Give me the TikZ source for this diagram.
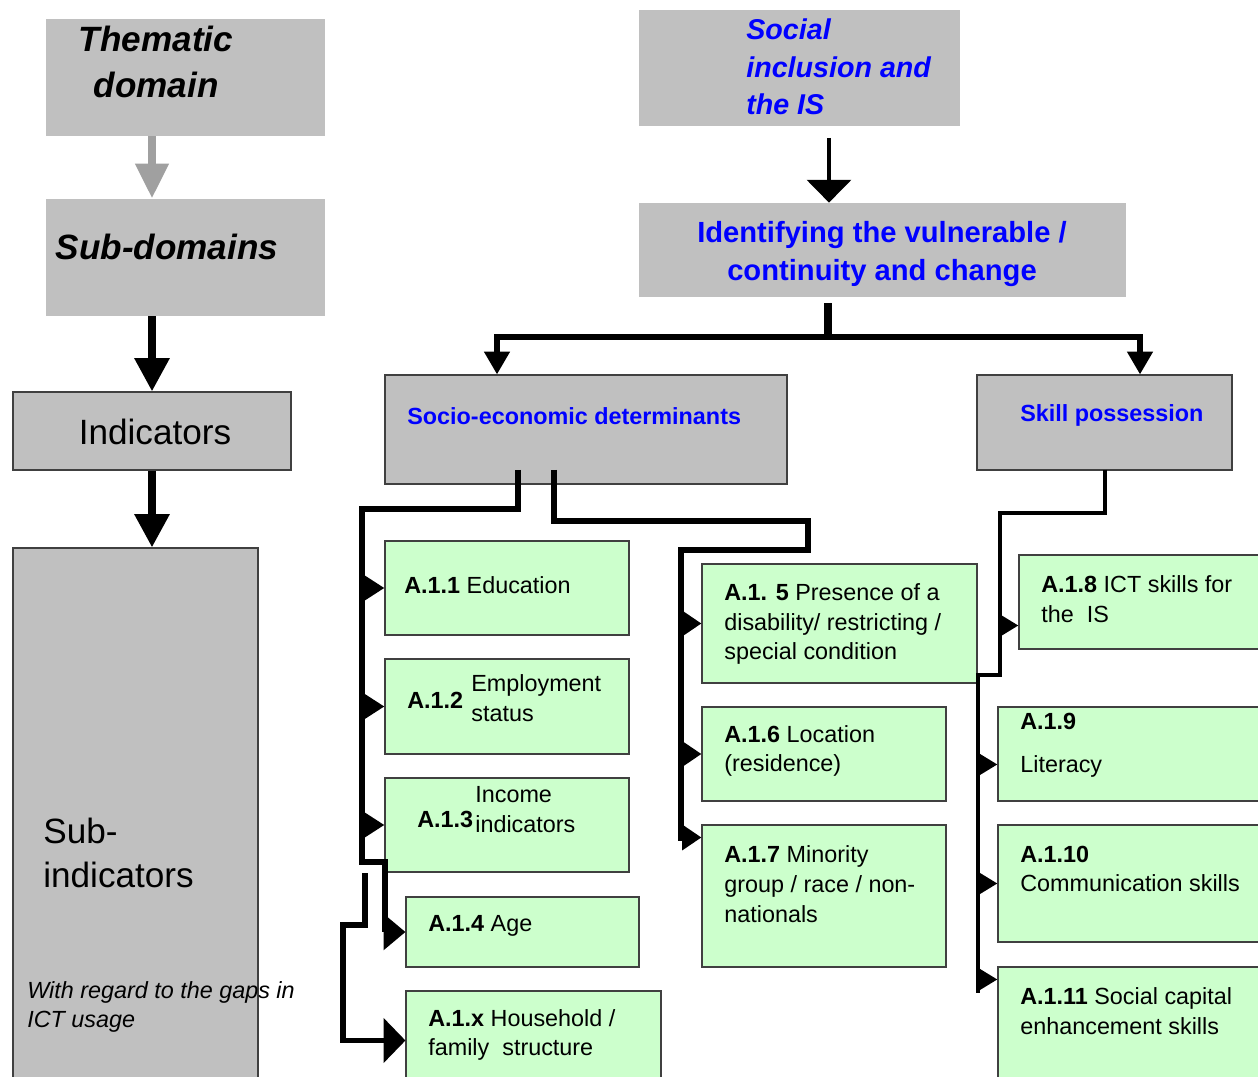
\documentclass[tikz,border=0pt]{standalone}
\usepackage{fontspec}
\setmainfont{Liberation Sans}
\usepackage{tikz}
\usetikzlibrary{arrows.meta, positioning, calc, fit}
\definecolor{boxgray}{RGB}{192,192,192}
\definecolor{boxgreen}{RGB}{204,255,204}
\definecolor{hdblue}{RGB}{0,0,255}
\definecolor{arrgray}{RGB}{160,160,160}
\newcommand{\fsz}[2]{\fontsize{#1pt}{#2pt}\selectfont}

\begin{document}
\begin{tikzpicture}[x=0.02cm, y=-0.02cm,
  graybox/.style={fill=boxgray, inner sep=0pt},
  framebox/.style={graybox, draw=black!75, line width=0.6pt},
  greenbox/.style={fill=boxgreen, draw=black!75, line width=0.6pt, inner sep=0pt},
  txt/.style={inner sep=0pt, align=left, anchor=west, font=\fsz{13.3}{17}},
  hd/.style={txt, text=hdblue, font=\fsz{13.3}{17}\bfseries},
  conn/.style={line width=3.2pt},
  rconn/.style={line width=2.6pt},
  tipL/.style={-{Triangle[length=12.5pt, width=#1]}},
  tipM/.style={-{Triangle[length=11pt, width=14pt]}},
  tipR/.style={-{Triangle[length=11pt, width=12.5pt]}}]
\useasboundingbox (0,0) rectangle (1258,1077);

% left column
\node[graybox, fit={(46,19) (325,136)}] (them) {};
\node[graybox, fit={(46,199) (325,316)}] (subd) {};
\node[framebox, fit={(13,392) (291,470)}] (indic) {};
\node[framebox, fit={(13,548) (258,1090)}] (subind) {};
\node[font=\fsz{20}{26}\bfseries\itshape, align=center, inner sep=0pt] (themtxt) at (156,62) {Thematic\\domain};
\node[font=\fsz{20}{26}\bfseries\itshape, inner sep=0pt] (subdtxt) at (167,247) {Sub-domains};
\node[font=\fsz{20}{26}, inner sep=0pt] (indictxt) at (155,432) {Indicators};
\node[txt, font=\fsz{20}{25.5}] (subindtxt) at (43,853) {Sub-\\indicators};
\node[txt, font=\fsz{13.3}{17}\itshape] (notetxt) at (27,1007) {With regard to the gaps in\\ICT usage};

\draw[line width=5pt, arrgray, -{Triangle[length=20pt, width=18pt]}] (them.south -| indic) -- (subd.north -| indic);
\draw[line width=4.5pt, -{Triangle[length=19pt, width=19pt]}] (subd.south -| indic) -- (indic.north);
\draw[line width=4.5pt, -{Triangle[length=19pt, width=19pt]}] (indic.south) -- (subind.north -| indic);

% top of the tree
\node[graybox, fit={(639,10) (960,126)}] (soc) {};
\node[graybox, fit={(639,203) (1126,297)}] (ident) {};
\node[framebox, fit={(385,375) (787,484)}] (socio) {};
\node[framebox, fit={(977,375) (1232,470)}] (skill) {};
\node[txt, text=hdblue, font=\fsz{16.3}{21.3}\bfseries\itshape] (soctxt) at (746,67) {Social\\inclusion and\\the IS};
\node[txt, anchor=center, align=center, text=hdblue, font=\fsz{16.6}{21.5}\bfseries] (identtxt) at (882,254) {Identifying the vulnerable /\\continuity and change};
\node[hd] (sociotxt) at (407,416) {Socio-economic determinants};
\node[hd] (skilltxt) at (1020,415) {Skill possession};

\coordinate (tA) at (829,138);
\draw[line width=2.3pt, -{Triangle[length=13pt, width=25pt]}] (tA) -- (tA |- ident.north);
\coordinate (tB) at (828,303);
\draw[line width=4.5pt] (tB) -- (828,337);
\draw[line width=3.2pt, -{Triangle[length=13pt, width=14pt]}] (tB) |- (497,337) -- (497,0 |- socio.north);
\draw[line width=3.2pt, -{Triangle[length=13pt, width=14pt]}] (tB) |- (1140,337) -- (1140,0 |- skill.north);

% sub-indicators
\node[greenbox, fit={(385,541) (629,635)}] (a11) {};
\node[greenbox, fit={(385,659) (629,754)}] (a12) {};
\node[greenbox, fit={(385,778) (629,872)}] (a13) {};
\node[greenbox, fit={(406,897) (639,967)}] (a14) {};
\node[greenbox, fit={(406,991) (661,1090)}] (a1x) {};
\node[greenbox, fit={(702,564) (977,683)}] (a15) {};
\node[greenbox, fit={(702,707) (946,801)}] (a16) {};
\node[greenbox, fit={(702,825) (946,967)}] (a17) {};
\node[greenbox, fit={(1019,555) (1265,649)}] (a18) {};
\node[greenbox, fit={(998,707) (1265,801)}] (a19) {};
\node[greenbox, fit={(998,825) (1265,942)}] (a110) {};
\node[greenbox, fit={(998,967) (1265,1090)}] (a111) {};

\node[txt] (t11) at (404,585) {\textbf{A.1.1} Education};
\node[txt] (t12a) at (407,700) {\textbf{A.1.2}};
\node[txt] (t12b) at (471,698) {Employment\\status};
\node[txt] (t13a) at (417,819) {\textbf{A.1.3}};
\node[txt] (t13b) at (475,810) {Income\\indicators};
\node[txt] (t14) at (428,926) {\textbf{A.1.4} Age};
\node[txt] (t1x) at (428,1035) {\textbf{A.1.x} Household /\\family\ \ structure};
\node[txt] (t15) at (724,624) {\textbf{A.1. 5} Presence of a\\disability/ restricting /\\special condition};
\node[txt] (t16) at (724,751) {\textbf{A.1.6} Location\\(residence)};
\node[txt] (t17) at (724,884) {\textbf{A.1.7} Minority\\group / race / non-\\nationals};
\node[txt] (t18) at (1041,599) {\textbf{A.1.8} ICT skills for\\the\ \ IS};
\node[txt] (t19) at (1020,745) {\textbf{A.1.9}\\[7.5pt]Literacy};
\node[txt] (t110) at (1020,869) {\textbf{A.1.10}\\Communication skills};
\node[txt] (t111) at (1020,1011) {\textbf{A.1.11} Social capital\\enhancement skills};

% socio-economic branch, left
\coordinate (sL) at (518,470);
\draw[conn, tipL=20pt] (sL) |- (362,509) -- (362,862) -- (385,862) |- (a14.west);
\foreach \b in {a11,a12,a13}
  \draw[conn, tipL=15pt] (362,0 |- \b.west) -- (\b.west);
\coordinate (sX) at (365,873);
\draw[conn, tipL=25pt] (sX) |- (343,925) |- (a1x.west);

% socio-economic branch, middle
\coordinate (sM) at (554,470);
\draw[conn] (sM) |- (808,521) -- (808,550) -| (681,841);
\coordinate (e17) at ($(a17.north west)+(0,13)$);
\foreach \b in {a15,a16,e17}
  \draw[conn, tipM] (681,0 |- \b) -- (\b);

% skill branch
\coordinate (sR) at (1105,470);
\draw[rconn] (sR) |- (1000,513) -- (1000,675) -| (978,993);
\coordinate (e18) at ($(a18.south west)+(0,-24)$);
\draw[rconn, tipR] (1000,0 |- e18) -- (e18);
\coordinate (e19) at ($(a19.north west)+(0,58)$);
\coordinate (e111) at ($(a111.north west)+(0,13)$);
\foreach \b in {e19,a110.west,e111}
  \draw[rconn, tipR] (978,0 |- \b) -- (\b);
\end{tikzpicture}
\end{document}
